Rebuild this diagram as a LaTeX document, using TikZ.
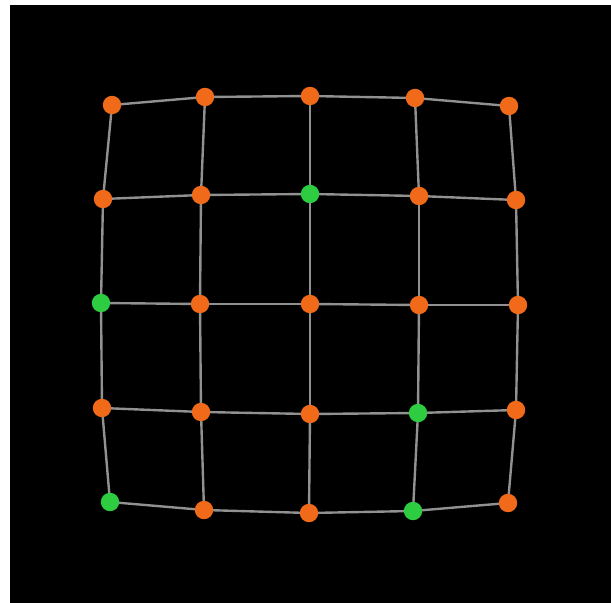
\documentclass[tikz,border=0pt]{standalone}
\usetikzlibrary{backgrounds}
\definecolor{dotorange}{RGB}{240, 106, 26}
\definecolor{dotgreen}{RGB}{46, 204, 64}
\definecolor{wiregray}{RGB}{145, 145, 145}

\begin{document}
\begin{tikzpicture}[x=0.025cm, y=-0.025cm,
  pt/.style={circle, inner sep=0pt, minimum size=0.46cm, fill=dotorange},
  fixed/.style={pt, fill=dotgreen},
  wire/.style={draw=wiregray, line width=1.7pt}
]
  \useasboundingbox (0,0) rectangle (611,603);

  % row 0
  \node[pt] (n00) at (112,105) {};
  \node[pt] (n01) at (205,97) {};
  \node[pt] (n02) at (310,96) {};
  \node[pt] (n03) at (415,98) {};
  \node[pt] (n04) at (509,106) {};
  % row 1
  \node[pt] (n10) at (103,199) {};
  \node[pt] (n11) at (201,195) {};
  \node[fixed] (n12) at (310,194) {};
  \node[pt] (n13) at (419,196) {};
  \node[pt] (n14) at (516,200) {};
  % row 2
  \node[fixed] (n20) at (101,303) {};
  \node[pt] (n21) at (200,304) {};
  \node[pt] (n22) at (310,304) {};
  \node[pt] (n23) at (419,305) {};
  \node[pt] (n24) at (518,305) {};
  % row 3
  \node[pt] (n30) at (102,408) {};
  \node[pt] (n31) at (201,412) {};
  \node[pt] (n32) at (310,414) {};
  \node[fixed] (n33) at (418,413) {};
  \node[pt] (n34) at (516,410) {};
  % row 4
  \node[fixed] (n40) at (110,502) {};
  \node[pt] (n41) at (204,510) {};
  \node[pt] (n42) at (309,513) {};
  \node[fixed] (n43) at (413,511) {};
  \node[pt] (n44) at (508,503) {};

  \begin{pgfonlayer}{background}
    \fill[black] (10,5) rectangle (611,603);
    % horizontal springs
    \foreach \r in {0,...,4} {
      \foreach \c/\d in {0/1,1/2,2/3,3/4} {
        \draw[wire] (n\r\c.center) -- (n\r\d.center);
      }
    }
    % vertical springs
    \foreach \c in {0,...,4} {
      \foreach \r/\s in {0/1,1/2,2/3,3/4} {
        \draw[wire] (n\r\c.center) -- (n\s\c.center);
      }
    }
  \end{pgfonlayer}
\end{tikzpicture}
\end{document}
